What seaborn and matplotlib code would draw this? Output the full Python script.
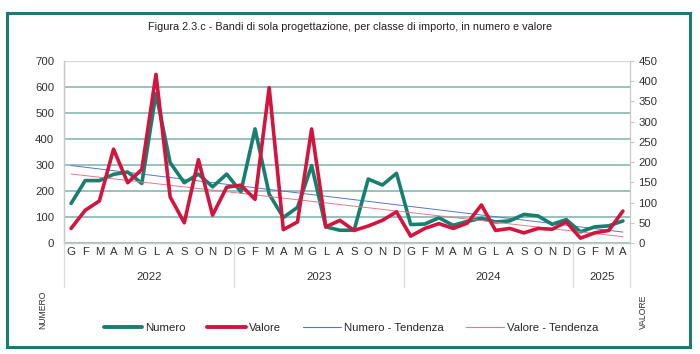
import numpy as np
import pandas as pd
import seaborn as sns
import matplotlib.pyplot as plt
from matplotlib.lines import Line2D
from matplotlib.patches import Rectangle

sns.set_theme(style="white")
plt.rcParams['font.family'] = ['Liberation Sans', 'DejaVu Sans']

# ---- data ----
months = list("GFMAMGLASOND") * 3 + list("GFMA")
years = ["2022", "2023", "2024", "2025"]
year_len = [12, 12, 12, 4]

numero = [152, 240, 240, 264, 273, 229, 575, 309, 232, 265, 216, 265,
          197, 439, 188, 98, 137, 298, 62, 49, 49, 246, 223, 268,
          71, 73, 97, 68, 83, 95, 81, 85, 110, 104, 72, 90,
          43, 62, 66, 85]
valore = [36, 81, 104, 232, 149, 182, 417, 114, 50, 206, 69, 138,
          143, 108, 384, 33, 52, 282, 40, 56, 31, 42, 56, 77,
          17, 36, 48, 36, 49, 94, 31, 36, 25, 36, 34, 52,
          12, 25, 31, 79]

title = "Figura 2.3.c - Bandi di sola progettazione, per classe di importo, in numero e valore"

teal = "#16806f"
red = "#d2143f"
blue_tr = "#5876c8"
red_tr = "#e07a8a"
gridc = "#8fbdb8"
axc = "#c8c8c8"

df = pd.DataFrame({"idx": np.arange(len(months)), "Numero": numero, "Valore": valore})

fig = plt.figure(figsize=(7, 3.54), dpi=100)
ax = fig.add_axes([64 / 700, 1 - 243 / 354, (630 - 64) / 700, (243 - 61) / 354])
ax2 = ax.twinx()

# trend lines + series
sns.regplot(data=df, x="idx", y="Numero", ax=ax, scatter=False, ci=None,
            line_kws=dict(color=blue_tr, lw=0.7, zorder=3))
sns.lineplot(data=df, x="idx", y="Numero", ax=ax, color=teal, lw=2.6, zorder=4)
sns.regplot(data=df, x="idx", y="Valore", ax=ax2, scatter=False, ci=None,
            line_kws=dict(color=red_tr, lw=0.7, zorder=3))
sns.lineplot(data=df, x="idx", y="Valore", ax=ax2, color=red, lw=2.6, zorder=4)

n = len(months)
ax.set_xlim(-0.5, n - 0.5)
ax.set_ylim(0, 700)
ax2.set_ylim(0, 450)
ax.set_yticks(range(0, 701, 100))
ax2.set_yticks(range(0, 451, 50))
ax.set_xticks(range(n))
ax.set_xticklabels(months)
ax.set_xticks(np.arange(-0.5, n, 1), minor=True)
for a in (ax, ax2):
    a.set_xlabel("")
    a.set_ylabel("")

ax.tick_params(axis="x", which="major", length=0, pad=3, labelsize=8.2, colors="#303030")
ax.tick_params(axis="x", which="minor", length=14, width=0.8, color="#dcdcdc", direction="out")
ax.tick_params(axis="y", length=0, pad=7, labelsize=8.2, colors="#303030")
ax2.tick_params(axis="y", length=3, width=0.8, color=axc, pad=3, labelsize=8.2, colors="#303030")

ax.yaxis.grid(True, color=gridc, lw=1.3)
ax.set_axisbelow(True)
gl = ax.get_ygridlines()
gl[-1].set_color("#d8d8d8")
gl[-1].set_linewidth(1.0)

for a in (ax, ax2):
    for s in ("top",):
        a.spines[s].set_visible(False)
    a.spines["left"].set_color(axc)
    a.spines["right"].set_color(axc)
    a.spines["bottom"].set_color(axc)
    a.spines["left"].set_linewidth(0.9)
    a.spines["right"].set_linewidth(0.9)
    a.spines["bottom"].set_linewidth(0.9)
ax.spines["right"].set_visible(False)

# year separators and labels
tr = ax.get_xaxis_transform()
bounds = np.concatenate([[-0.5], np.cumsum(year_len) - 0.5])
for b in bounds:
    ax.plot([b, b], [0, -0.24], transform=tr, clip_on=False, color="#dcdcdc", lw=0.9)
for i, y in enumerate(years):
    c = (bounds[i] + bounds[i + 1]) / 2
    ax.text(c, -0.187, y, transform=tr, ha="center", va="center", fontsize=8.2, color="#303030")

# title, axis names
fig.text(0.5, 1 - 27 / 354, title, ha="center", va="center", fontsize=7.8, color="#202020")
fig.text(43 / 700, 1 - 310 / 354, "NUMERO", rotation=90, ha="center", va="center", fontsize=6.2, color="#303030")
fig.text(643 / 700, 1 - 312 / 354, "VALORE", rotation=90, ha="center", va="center", fontsize=6.2, color="#303030")

# legend
handles = [Line2D([], [], color=teal, lw=2.8), Line2D([], [], color=red, lw=2.8),
           Line2D([], [], color=blue_tr, lw=0.8), Line2D([], [], color=red_tr, lw=0.8)]
labels = ["Numero", "Valore", "Numero - Tendenza", "Valore - Tendenza"]
fig.legend(handles, labels, loc="center", bbox_to_anchor=(351 / 700, 1 - 328 / 354), ncol=4,
           frameon=False, fontsize=8.2, handlelength=3.4, handletextpad=0.25, columnspacing=1.9)

# border
fig.patches.append(Rectangle((7 / 700, 1 - 347 / 354), 683 / 700, 334 / 354, transform=fig.transFigure,
                             fill=False, edgecolor="#1d7a6f", lw=2.2))

fig.savefig("out.png", dpi=100)
